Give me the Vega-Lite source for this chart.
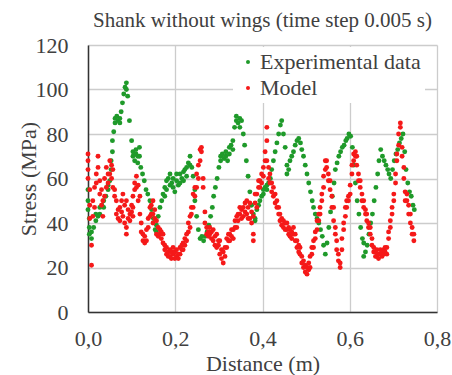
{
"$schema": "https://vega.github.io/schema/vega-lite/v6.json",
"width": 349, "height": 267,
"autosize": {"type": "none"},
"padding": {"left": 88, "top": 45, "right": 15, "bottom": 63},
"config": {"view": {"stroke": null}, "font": "Liberation Serif"},
"title": {"text": "Shank without wings (time step 0.005 s)", "fontSize": 21, "font": "Liberation Serif", "fontWeight": "normal", "color": "#404040", "offset": 3, "anchor": "middle"},
"data": {"values": [
{"x":0,"y":55,"s":"E"},{"x":0,"y":50,"s":"E"},{"x":0,"y":46,"s":"E"},{"x":0.003,"y":42,"s":"E"},{"x":0.003,"y":38,"s":"E"},{"x":0.003,"y":35,"s":"E"},{"x":0.008,"y":33,"s":"E"},{"x":0.008,"y":36,"s":"E"},{"x":0.013,"y":38,"s":"E"},{"x":0.018,"y":41,"s":"E"},{"x":0.018,"y":44,"s":"E"},{"x":0.023,"y":43,"s":"E"},{"x":0.027,"y":44,"s":"E"},{"x":0.027,"y":47,"s":"E"},{"x":0.032,"y":48,"s":"E"},{"x":0.036,"y":50,"s":"E"},{"x":0.036,"y":47,"s":"E"},{"x":0.041,"y":52,"s":"E"},{"x":0.046,"y":55,"s":"E"},{"x":0.046,"y":57,"s":"E"},{"x":0.05,"y":59,"s":"E"},{"x":0.053,"y":64,"s":"E"},{"x":0.053,"y":68,"s":"E"},{"x":0.056,"y":72,"s":"E"},{"x":0.056,"y":77,"s":"E"},{"x":0.059,"y":81,"s":"E"},{"x":0.062,"y":85,"s":"E"},{"x":0.062,"y":87,"s":"E"},{"x":0.066,"y":88,"s":"E"},{"x":0.069,"y":86,"s":"E"},{"x":0.073,"y":85,"s":"E"},{"x":0.073,"y":87,"s":"E"},{"x":0.076,"y":90,"s":"E"},{"x":0.079,"y":94,"s":"E"},{"x":0.082,"y":98,"s":"E"},{"x":0.085,"y":101,"s":"E"},{"x":0.088,"y":103,"s":"E"},{"x":0.088,"y":100,"s":"E"},{"x":0.091,"y":97,"s":"E"},{"x":0.095,"y":86,"s":"E"},{"x":0.1,"y":77,"s":"E"},{"x":0.103,"y":72,"s":"E"},{"x":0.103,"y":70,"s":"E"},{"x":0.107,"y":68,"s":"E"},{"x":0.11,"y":71,"s":"E"},{"x":0.11,"y":73,"s":"E"},{"x":0.114,"y":70,"s":"E"},{"x":0.114,"y":67,"s":"E"},{"x":0.118,"y":74,"s":"E"},{"x":0.118,"y":70,"s":"E"},{"x":0.121,"y":65,"s":"E"},{"x":0.125,"y":62,"s":"E"},{"x":0.129,"y":59,"s":"E"},{"x":0.133,"y":55,"s":"E"},{"x":0.137,"y":53,"s":"E"},{"x":0.142,"y":50,"s":"E"},{"x":0.146,"y":46,"s":"E"},{"x":0.15,"y":42,"s":"E"},{"x":0.154,"y":37,"s":"E"},{"x":0.157,"y":36,"s":"E"},{"x":0.157,"y":39,"s":"E"},{"x":0.161,"y":43,"s":"E"},{"x":0.165,"y":47,"s":"E"},{"x":0.169,"y":50,"s":"E"},{"x":0.172,"y":53,"s":"E"},{"x":0.176,"y":56,"s":"E"},{"x":0.176,"y":52,"s":"E"},{"x":0.18,"y":59,"s":"E"},{"x":0.18,"y":55,"s":"E"},{"x":0.184,"y":60,"s":"E"},{"x":0.188,"y":62,"s":"E"},{"x":0.188,"y":57,"s":"E"},{"x":0.192,"y":58,"s":"E"},{"x":0.195,"y":56,"s":"E"},{"x":0.195,"y":60,"s":"E"},{"x":0.199,"y":54,"s":"E"},{"x":0.203,"y":59,"s":"E"},{"x":0.203,"y":62,"s":"E"},{"x":0.207,"y":57,"s":"E"},{"x":0.211,"y":62,"s":"E"},{"x":0.211,"y":58,"s":"E"},{"x":0.215,"y":60,"s":"E"},{"x":0.219,"y":59,"s":"E"},{"x":0.219,"y":63,"s":"E"},{"x":0.222,"y":64,"s":"E"},{"x":0.226,"y":65,"s":"E"},{"x":0.226,"y":61,"s":"E"},{"x":0.23,"y":67,"s":"E"},{"x":0.234,"y":70,"s":"E"},{"x":0.234,"y":66,"s":"E"},{"x":0.238,"y":65,"s":"E"},{"x":0.241,"y":61,"s":"E"},{"x":0.245,"y":55,"s":"E"},{"x":0.245,"y":50,"s":"E"},{"x":0.249,"y":43,"s":"E"},{"x":0.253,"y":37,"s":"E"},{"x":0.257,"y":33,"s":"E"},{"x":0.261,"y":34,"s":"E"},{"x":0.265,"y":32,"s":"E"},{"x":0.269,"y":34,"s":"E"},{"x":0.273,"y":36,"s":"E"},{"x":0.277,"y":39,"s":"E"},{"x":0.281,"y":43,"s":"E"},{"x":0.285,"y":47,"s":"E"},{"x":0.288,"y":52,"s":"E"},{"x":0.292,"y":56,"s":"E"},{"x":0.296,"y":60,"s":"E"},{"x":0.3,"y":65,"s":"E"},{"x":0.304,"y":68,"s":"E"},{"x":0.304,"y":70,"s":"E"},{"x":0.308,"y":71,"s":"E"},{"x":0.312,"y":69,"s":"E"},{"x":0.316,"y":70,"s":"E"},{"x":0.316,"y":72,"s":"E"},{"x":0.32,"y":68,"s":"E"},{"x":0.324,"y":74,"s":"E"},{"x":0.324,"y":71,"s":"E"},{"x":0.328,"y":75,"s":"E"},{"x":0.332,"y":77,"s":"E"},{"x":0.332,"y":73,"s":"E"},{"x":0.336,"y":83,"s":"E"},{"x":0.34,"y":88,"s":"E"},{"x":0.34,"y":86,"s":"E"},{"x":0.344,"y":85,"s":"E"},{"x":0.348,"y":83,"s":"E"},{"x":0.348,"y":87,"s":"E"},{"x":0.352,"y":86,"s":"E"},{"x":0.356,"y":80,"s":"E"},{"x":0.359,"y":75,"s":"E"},{"x":0.363,"y":68,"s":"E"},{"x":0.367,"y":61,"s":"E"},{"x":0.371,"y":54,"s":"E"},{"x":0.375,"y":48,"s":"E"},{"x":0.379,"y":44,"s":"E"},{"x":0.383,"y":41,"s":"E"},{"x":0.383,"y":42,"s":"E"},{"x":0.387,"y":46,"s":"E"},{"x":0.391,"y":48,"s":"E"},{"x":0.394,"y":50,"s":"E"},{"x":0.398,"y":52,"s":"E"},{"x":0.402,"y":53,"s":"E"},{"x":0.402,"y":55,"s":"E"},{"x":0.406,"y":56,"s":"E"},{"x":0.41,"y":55,"s":"E"},{"x":0.41,"y":57,"s":"E"},{"x":0.414,"y":58,"s":"E"},{"x":0.418,"y":60,"s":"E"},{"x":0.421,"y":64,"s":"E"},{"x":0.425,"y":68,"s":"E"},{"x":0.429,"y":72,"s":"E"},{"x":0.433,"y":76,"s":"E"},{"x":0.437,"y":80,"s":"E"},{"x":0.441,"y":84,"s":"E"},{"x":0.444,"y":86,"s":"E"},{"x":0.448,"y":80,"s":"E"},{"x":0.452,"y":74,"s":"E"},{"x":0.456,"y":66,"s":"E"},{"x":0.456,"y":62,"s":"E"},{"x":0.46,"y":64,"s":"E"},{"x":0.463,"y":68,"s":"E"},{"x":0.467,"y":70,"s":"E"},{"x":0.471,"y":72,"s":"E"},{"x":0.475,"y":75,"s":"E"},{"x":0.479,"y":77,"s":"E"},{"x":0.483,"y":78,"s":"E"},{"x":0.487,"y":76,"s":"E"},{"x":0.49,"y":73,"s":"E"},{"x":0.494,"y":70,"s":"E"},{"x":0.498,"y":66,"s":"E"},{"x":0.502,"y":62,"s":"E"},{"x":0.506,"y":58,"s":"E"},{"x":0.51,"y":54,"s":"E"},{"x":0.514,"y":50,"s":"E"},{"x":0.517,"y":47,"s":"E"},{"x":0.521,"y":44,"s":"E"},{"x":0.525,"y":42,"s":"E"},{"x":0.529,"y":40,"s":"E"},{"x":0.533,"y":37,"s":"E"},{"x":0.537,"y":34,"s":"E"},{"x":0.54,"y":30,"s":"E"},{"x":0.544,"y":26,"s":"E"},{"x":0.548,"y":31,"s":"E"},{"x":0.552,"y":38,"s":"E"},{"x":0.556,"y":45,"s":"E"},{"x":0.56,"y":52,"s":"E"},{"x":0.564,"y":58,"s":"E"},{"x":0.567,"y":64,"s":"E"},{"x":0.571,"y":67,"s":"E"},{"x":0.575,"y":70,"s":"E"},{"x":0.579,"y":72,"s":"E"},{"x":0.583,"y":74,"s":"E"},{"x":0.587,"y":75,"s":"E"},{"x":0.591,"y":77,"s":"E"},{"x":0.594,"y":78,"s":"E"},{"x":0.598,"y":80,"s":"E"},{"x":0.602,"y":79,"s":"E"},{"x":0.606,"y":74,"s":"E"},{"x":0.609,"y":66,"s":"E"},{"x":0.613,"y":58,"s":"E"},{"x":0.617,"y":50,"s":"E"},{"x":0.621,"y":44,"s":"E"},{"x":0.625,"y":38,"s":"E"},{"x":0.629,"y":33,"s":"E"},{"x":0.632,"y":31,"s":"E"},{"x":0.632,"y":25,"s":"E"},{"x":0.636,"y":27,"s":"E"},{"x":0.64,"y":30,"s":"E"},{"x":0.644,"y":35,"s":"E"},{"x":0.648,"y":40,"s":"E"},{"x":0.652,"y":44,"s":"E"},{"x":0.656,"y":50,"s":"E"},{"x":0.66,"y":56,"s":"E"},{"x":0.664,"y":62,"s":"E"},{"x":0.667,"y":68,"s":"E"},{"x":0.671,"y":73,"s":"E"},{"x":0.675,"y":70,"s":"E"},{"x":0.679,"y":68,"s":"E"},{"x":0.683,"y":66,"s":"E"},{"x":0.687,"y":64,"s":"E"},{"x":0.69,"y":62,"s":"E"},{"x":0.694,"y":60,"s":"E"},{"x":0.698,"y":64,"s":"E"},{"x":0.702,"y":68,"s":"E"},{"x":0.706,"y":71,"s":"E"},{"x":0.71,"y":73,"s":"E"},{"x":0.714,"y":76,"s":"E"},{"x":0.718,"y":78,"s":"E"},{"x":0.722,"y":80,"s":"E"},{"x":0.726,"y":72,"s":"E"},{"x":0.729,"y":64,"s":"E"},{"x":0.733,"y":58,"s":"E"},{"x":0.737,"y":54,"s":"E"},{"x":0.741,"y":52,"s":"E"},{"x":0.745,"y":48,"s":"E"},{"x":0.748,"y":46,"s":"E"},
{"x":0,"y":71,"s":"M"},{"x":0,"y":68,"s":"M"},{"x":0,"y":64,"s":"M"},{"x":0,"y":60,"s":"M"},{"x":0.004,"y":55,"s":"M"},{"x":0.004,"y":48,"s":"M"},{"x":0.004,"y":42,"s":"M"},{"x":0.008,"y":30,"s":"M"},{"x":0.008,"y":21,"s":"M"},{"x":0.011,"y":43,"s":"M"},{"x":0.011,"y":50,"s":"M"},{"x":0.015,"y":56,"s":"M"},{"x":0.015,"y":47,"s":"M"},{"x":0.019,"y":62,"s":"M"},{"x":0.019,"y":58,"s":"M"},{"x":0.023,"y":70,"s":"M"},{"x":0.023,"y":65,"s":"M"},{"x":0.027,"y":59,"s":"M"},{"x":0.027,"y":53,"s":"M"},{"x":0.031,"y":55,"s":"M"},{"x":0.031,"y":48,"s":"M"},{"x":0.034,"y":50,"s":"M"},{"x":0.034,"y":43,"s":"M"},{"x":0.038,"y":52,"s":"M"},{"x":0.038,"y":60,"s":"M"},{"x":0.042,"y":56,"s":"M"},{"x":0.042,"y":65,"s":"M"},{"x":0.046,"y":62,"s":"M"},{"x":0.046,"y":58,"s":"M"},{"x":0.05,"y":62,"s":"M"},{"x":0.05,"y":68,"s":"M"},{"x":0.054,"y":60,"s":"M"},{"x":0.054,"y":66,"s":"M"},{"x":0.057,"y":64,"s":"M"},{"x":0.057,"y":56,"s":"M"},{"x":0.061,"y":55,"s":"M"},{"x":0.061,"y":52,"s":"M"},{"x":0.065,"y":50,"s":"M"},{"x":0.065,"y":44,"s":"M"},{"x":0.069,"y":46,"s":"M"},{"x":0.069,"y":42,"s":"M"},{"x":0.073,"y":47,"s":"M"},{"x":0.073,"y":41,"s":"M"},{"x":0.077,"y":50,"s":"M"},{"x":0.077,"y":45,"s":"M"},{"x":0.08,"y":53,"s":"M"},{"x":0.08,"y":43,"s":"M"},{"x":0.084,"y":48,"s":"M"},{"x":0.084,"y":40,"s":"M"},{"x":0.088,"y":50,"s":"M"},{"x":0.088,"y":38,"s":"M"},{"x":0.088,"y":35,"s":"M"},{"x":0.092,"y":42,"s":"M"},{"x":0.092,"y":46,"s":"M"},{"x":0.096,"y":44,"s":"M"},{"x":0.096,"y":41,"s":"M"},{"x":0.1,"y":48,"s":"M"},{"x":0.1,"y":45,"s":"M"},{"x":0.103,"y":52,"s":"M"},{"x":0.103,"y":47,"s":"M"},{"x":0.103,"y":43,"s":"M"},{"x":0.107,"y":58,"s":"M"},{"x":0.107,"y":55,"s":"M"},{"x":0.111,"y":61,"s":"M"},{"x":0.111,"y":56,"s":"M"},{"x":0.115,"y":57,"s":"M"},{"x":0.115,"y":50,"s":"M"},{"x":0.119,"y":52,"s":"M"},{"x":0.119,"y":44,"s":"M"},{"x":0.122,"y":40,"s":"M"},{"x":0.122,"y":36,"s":"M"},{"x":0.126,"y":35,"s":"M"},{"x":0.126,"y":32,"s":"M"},{"x":0.13,"y":34,"s":"M"},{"x":0.13,"y":31,"s":"M"},{"x":0.134,"y":37,"s":"M"},{"x":0.134,"y":32,"s":"M"},{"x":0.138,"y":42,"s":"M"},{"x":0.138,"y":38,"s":"M"},{"x":0.142,"y":47,"s":"M"},{"x":0.142,"y":43,"s":"M"},{"x":0.145,"y":48,"s":"M"},{"x":0.145,"y":44,"s":"M"},{"x":0.149,"y":50,"s":"M"},{"x":0.149,"y":44,"s":"M"},{"x":0.149,"y":40,"s":"M"},{"x":0.153,"y":46,"s":"M"},{"x":0.153,"y":42,"s":"M"},{"x":0.157,"y":41,"s":"M"},{"x":0.157,"y":35,"s":"M"},{"x":0.161,"y":38,"s":"M"},{"x":0.161,"y":34,"s":"M"},{"x":0.165,"y":35,"s":"M"},{"x":0.165,"y":37,"s":"M"},{"x":0.168,"y":33,"s":"M"},{"x":0.168,"y":36,"s":"M"},{"x":0.172,"y":35,"s":"M"},{"x":0.172,"y":31,"s":"M"},{"x":0.176,"y":30,"s":"M"},{"x":0.176,"y":28,"s":"M"},{"x":0.18,"y":29,"s":"M"},{"x":0.18,"y":26,"s":"M"},{"x":0.184,"y":27,"s":"M"},{"x":0.184,"y":25,"s":"M"},{"x":0.188,"y":28,"s":"M"},{"x":0.188,"y":25,"s":"M"},{"x":0.191,"y":27,"s":"M"},{"x":0.191,"y":24,"s":"M"},{"x":0.195,"y":29,"s":"M"},{"x":0.195,"y":26,"s":"M"},{"x":0.199,"y":27,"s":"M"},{"x":0.199,"y":24,"s":"M"},{"x":0.203,"y":25,"s":"M"},{"x":0.203,"y":28,"s":"M"},{"x":0.207,"y":26,"s":"M"},{"x":0.207,"y":24,"s":"M"},{"x":0.211,"y":26,"s":"M"},{"x":0.211,"y":29,"s":"M"},{"x":0.215,"y":28,"s":"M"},{"x":0.215,"y":30,"s":"M"},{"x":0.218,"y":28,"s":"M"},{"x":0.218,"y":31,"s":"M"},{"x":0.222,"y":30,"s":"M"},{"x":0.222,"y":33,"s":"M"},{"x":0.226,"y":32,"s":"M"},{"x":0.226,"y":35,"s":"M"},{"x":0.23,"y":36,"s":"M"},{"x":0.23,"y":40,"s":"M"},{"x":0.234,"y":38,"s":"M"},{"x":0.234,"y":43,"s":"M"},{"x":0.237,"y":44,"s":"M"},{"x":0.237,"y":47,"s":"M"},{"x":0.241,"y":47,"s":"M"},{"x":0.241,"y":53,"s":"M"},{"x":0.245,"y":52,"s":"M"},{"x":0.245,"y":56,"s":"M"},{"x":0.249,"y":56,"s":"M"},{"x":0.249,"y":62,"s":"M"},{"x":0.253,"y":60,"s":"M"},{"x":0.253,"y":66,"s":"M"},{"x":0.257,"y":68,"s":"M"},{"x":0.257,"y":73,"s":"M"},{"x":0.26,"y":72,"s":"M"},{"x":0.26,"y":74,"s":"M"},{"x":0.264,"y":56,"s":"M"},{"x":0.264,"y":60,"s":"M"},{"x":0.268,"y":45,"s":"M"},{"x":0.268,"y":40,"s":"M"},{"x":0.272,"y":38,"s":"M"},{"x":0.272,"y":35,"s":"M"},{"x":0.276,"y":36,"s":"M"},{"x":0.276,"y":34,"s":"M"},{"x":0.279,"y":35,"s":"M"},{"x":0.279,"y":38,"s":"M"},{"x":0.283,"y":33,"s":"M"},{"x":0.283,"y":36,"s":"M"},{"x":0.287,"y":37,"s":"M"},{"x":0.287,"y":32,"s":"M"},{"x":0.291,"y":34,"s":"M"},{"x":0.291,"y":30,"s":"M"},{"x":0.295,"y":35,"s":"M"},{"x":0.295,"y":29,"s":"M"},{"x":0.299,"y":32,"s":"M"},{"x":0.299,"y":30,"s":"M"},{"x":0.302,"y":32,"s":"M"},{"x":0.302,"y":26,"s":"M"},{"x":0.306,"y":28,"s":"M"},{"x":0.306,"y":24,"s":"M"},{"x":0.31,"y":22,"s":"M"},{"x":0.31,"y":27,"s":"M"},{"x":0.314,"y":25,"s":"M"},{"x":0.314,"y":29,"s":"M"},{"x":0.318,"y":29,"s":"M"},{"x":0.318,"y":33,"s":"M"},{"x":0.322,"y":32,"s":"M"},{"x":0.322,"y":35,"s":"M"},{"x":0.325,"y":32,"s":"M"},{"x":0.325,"y":35,"s":"M"},{"x":0.329,"y":34,"s":"M"},{"x":0.329,"y":37,"s":"M"},{"x":0.333,"y":37,"s":"M"},{"x":0.333,"y":33,"s":"M"},{"x":0.337,"y":38,"s":"M"},{"x":0.337,"y":41,"s":"M"},{"x":0.341,"y":38,"s":"M"},{"x":0.341,"y":43,"s":"M"},{"x":0.344,"y":44,"s":"M"},{"x":0.344,"y":41,"s":"M"},{"x":0.348,"y":44,"s":"M"},{"x":0.348,"y":47,"s":"M"},{"x":0.352,"y":46,"s":"M"},{"x":0.352,"y":42,"s":"M"},{"x":0.356,"y":47,"s":"M"},{"x":0.356,"y":43,"s":"M"},{"x":0.36,"y":49,"s":"M"},{"x":0.36,"y":45,"s":"M"},{"x":0.364,"y":50,"s":"M"},{"x":0.364,"y":44,"s":"M"},{"x":0.367,"y":47,"s":"M"},{"x":0.367,"y":42,"s":"M"},{"x":0.371,"y":49,"s":"M"},{"x":0.371,"y":42,"s":"M"},{"x":0.375,"y":45,"s":"M"},{"x":0.375,"y":40,"s":"M"},{"x":0.379,"y":43,"s":"M"},{"x":0.379,"y":35,"s":"M"},{"x":0.379,"y":32,"s":"M"},{"x":0.383,"y":49,"s":"M"},{"x":0.383,"y":53,"s":"M"},{"x":0.387,"y":53,"s":"M"},{"x":0.387,"y":47,"s":"M"},{"x":0.391,"y":56,"s":"M"},{"x":0.391,"y":59,"s":"M"},{"x":0.394,"y":59,"s":"M"},{"x":0.394,"y":56,"s":"M"},{"x":0.398,"y":62,"s":"M"},{"x":0.398,"y":58,"s":"M"},{"x":0.402,"y":65,"s":"M"},{"x":0.402,"y":61,"s":"M"},{"x":0.406,"y":68,"s":"M"},{"x":0.406,"y":72,"s":"M"},{"x":0.41,"y":83,"s":"M"},{"x":0.41,"y":77,"s":"M"},{"x":0.41,"y":68,"s":"M"},{"x":0.414,"y":65,"s":"M"},{"x":0.414,"y":60,"s":"M"},{"x":0.417,"y":62,"s":"M"},{"x":0.417,"y":58,"s":"M"},{"x":0.421,"y":58,"s":"M"},{"x":0.421,"y":54,"s":"M"},{"x":0.425,"y":56,"s":"M"},{"x":0.425,"y":52,"s":"M"},{"x":0.429,"y":53,"s":"M"},{"x":0.429,"y":49,"s":"M"},{"x":0.433,"y":50,"s":"M"},{"x":0.433,"y":47,"s":"M"},{"x":0.437,"y":47,"s":"M"},{"x":0.437,"y":44,"s":"M"},{"x":0.44,"y":44,"s":"M"},{"x":0.44,"y":41,"s":"M"},{"x":0.444,"y":42,"s":"M"},{"x":0.444,"y":39,"s":"M"},{"x":0.448,"y":41,"s":"M"},{"x":0.448,"y":38,"s":"M"},{"x":0.452,"y":40,"s":"M"},{"x":0.452,"y":37,"s":"M"},{"x":0.456,"y":40,"s":"M"},{"x":0.456,"y":37,"s":"M"},{"x":0.46,"y":38,"s":"M"},{"x":0.46,"y":35,"s":"M"},{"x":0.463,"y":37,"s":"M"},{"x":0.463,"y":34,"s":"M"},{"x":0.467,"y":36,"s":"M"},{"x":0.467,"y":33,"s":"M"},{"x":0.471,"y":38,"s":"M"},{"x":0.471,"y":35,"s":"M"},{"x":0.475,"y":35,"s":"M"},{"x":0.475,"y":32,"s":"M"},{"x":0.479,"y":32,"s":"M"},{"x":0.479,"y":29,"s":"M"},{"x":0.483,"y":30,"s":"M"},{"x":0.483,"y":27,"s":"M"},{"x":0.486,"y":26,"s":"M"},{"x":0.486,"y":29,"s":"M"},{"x":0.49,"y":25,"s":"M"},{"x":0.49,"y":22,"s":"M"},{"x":0.494,"y":23,"s":"M"},{"x":0.494,"y":20,"s":"M"},{"x":0.498,"y":21,"s":"M"},{"x":0.498,"y":18,"s":"M"},{"x":0.502,"y":17,"s":"M"},{"x":0.502,"y":20,"s":"M"},{"x":0.506,"y":19,"s":"M"},{"x":0.506,"y":22,"s":"M"},{"x":0.509,"y":20,"s":"M"},{"x":0.509,"y":25,"s":"M"},{"x":0.513,"y":26,"s":"M"},{"x":0.513,"y":29,"s":"M"},{"x":0.517,"y":29,"s":"M"},{"x":0.517,"y":32,"s":"M"},{"x":0.521,"y":33,"s":"M"},{"x":0.521,"y":36,"s":"M"},{"x":0.525,"y":37,"s":"M"},{"x":0.525,"y":41,"s":"M"},{"x":0.529,"y":41,"s":"M"},{"x":0.529,"y":44,"s":"M"},{"x":0.532,"y":44,"s":"M"},{"x":0.532,"y":47,"s":"M"},{"x":0.536,"y":50,"s":"M"},{"x":0.536,"y":53,"s":"M"},{"x":0.54,"y":56,"s":"M"},{"x":0.54,"y":61,"s":"M"},{"x":0.544,"y":64,"s":"M"},{"x":0.544,"y":68,"s":"M"},{"x":0.547,"y":68,"s":"M"},{"x":0.547,"y":65,"s":"M"},{"x":0.551,"y":62,"s":"M"},{"x":0.551,"y":59,"s":"M"},{"x":0.555,"y":59,"s":"M"},{"x":0.555,"y":55,"s":"M"},{"x":0.559,"y":52,"s":"M"},{"x":0.559,"y":47,"s":"M"},{"x":0.563,"y":47,"s":"M"},{"x":0.563,"y":41,"s":"M"},{"x":0.567,"y":38,"s":"M"},{"x":0.567,"y":35,"s":"M"},{"x":0.57,"y":32,"s":"M"},{"x":0.57,"y":28,"s":"M"},{"x":0.574,"y":26,"s":"M"},{"x":0.574,"y":23,"s":"M"},{"x":0.578,"y":20,"s":"M"},{"x":0.578,"y":22,"s":"M"},{"x":0.582,"y":28,"s":"M"},{"x":0.582,"y":33,"s":"M"},{"x":0.586,"y":37,"s":"M"},{"x":0.586,"y":40,"s":"M"},{"x":0.59,"y":43,"s":"M"},{"x":0.59,"y":47,"s":"M"},{"x":0.593,"y":47,"s":"M"},{"x":0.593,"y":50,"s":"M"},{"x":0.597,"y":52,"s":"M"},{"x":0.597,"y":50,"s":"M"},{"x":0.601,"y":53,"s":"M"},{"x":0.601,"y":57,"s":"M"},{"x":0.605,"y":62,"s":"M"},{"x":0.605,"y":66,"s":"M"},{"x":0.609,"y":68,"s":"M"},{"x":0.609,"y":71,"s":"M"},{"x":0.613,"y":72,"s":"M"},{"x":0.613,"y":70,"s":"M"},{"x":0.616,"y":70,"s":"M"},{"x":0.616,"y":66,"s":"M"},{"x":0.62,"y":62,"s":"M"},{"x":0.62,"y":59,"s":"M"},{"x":0.624,"y":59,"s":"M"},{"x":0.624,"y":56,"s":"M"},{"x":0.628,"y":53,"s":"M"},{"x":0.628,"y":50,"s":"M"},{"x":0.632,"y":50,"s":"M"},{"x":0.632,"y":47,"s":"M"},{"x":0.636,"y":46,"s":"M"},{"x":0.636,"y":44,"s":"M"},{"x":0.639,"y":44,"s":"M"},{"x":0.639,"y":41,"s":"M"},{"x":0.643,"y":40,"s":"M"},{"x":0.643,"y":38,"s":"M"},{"x":0.647,"y":38,"s":"M"},{"x":0.647,"y":35,"s":"M"},{"x":0.651,"y":33,"s":"M"},{"x":0.651,"y":30,"s":"M"},{"x":0.655,"y":29,"s":"M"},{"x":0.655,"y":27,"s":"M"},{"x":0.659,"y":27,"s":"M"},{"x":0.659,"y":25,"s":"M"},{"x":0.662,"y":28,"s":"M"},{"x":0.662,"y":25,"s":"M"},{"x":0.666,"y":26,"s":"M"},{"x":0.666,"y":24,"s":"M"},{"x":0.67,"y":26,"s":"M"},{"x":0.67,"y":28,"s":"M"},{"x":0.674,"y":27,"s":"M"},{"x":0.674,"y":25,"s":"M"},{"x":0.678,"y":28,"s":"M"},{"x":0.678,"y":26,"s":"M"},{"x":0.681,"y":29,"s":"M"},{"x":0.681,"y":27,"s":"M"},{"x":0.685,"y":29,"s":"M"},{"x":0.685,"y":26,"s":"M"},{"x":0.689,"y":33,"s":"M"},{"x":0.689,"y":36,"s":"M"},{"x":0.693,"y":38,"s":"M"},{"x":0.693,"y":41,"s":"M"},{"x":0.697,"y":44,"s":"M"},{"x":0.697,"y":47,"s":"M"},{"x":0.701,"y":50,"s":"M"},{"x":0.701,"y":53,"s":"M"},{"x":0.705,"y":62,"s":"M"},{"x":0.705,"y":58,"s":"M"},{"x":0.708,"y":71,"s":"M"},{"x":0.708,"y":68,"s":"M"},{"x":0.712,"y":75,"s":"M"},{"x":0.712,"y":80,"s":"M"},{"x":0.716,"y":83,"s":"M"},{"x":0.716,"y":85,"s":"M"},{"x":0.72,"y":74,"s":"M"},{"x":0.72,"y":70,"s":"M"},{"x":0.724,"y":65,"s":"M"},{"x":0.724,"y":60,"s":"M"},{"x":0.727,"y":54,"s":"M"},{"x":0.727,"y":50,"s":"M"},{"x":0.731,"y":53,"s":"M"},{"x":0.731,"y":50,"s":"M"},{"x":0.735,"y":48,"s":"M"},{"x":0.735,"y":44,"s":"M"},{"x":0.739,"y":44,"s":"M"},{"x":0.739,"y":40,"s":"M"},{"x":0.743,"y":38,"s":"M"},{"x":0.743,"y":35,"s":"M"},{"x":0.747,"y":35,"s":"M"},{"x":0.747,"y":32,"s":"M"}
]},
"mark": {"type": "circle", "size": 24, "opacity": 1},
"encoding": {
"x": {"field": "x", "type": "quantitative", "scale": {"domain": [0, 0.8], "nice": false},
 "axis": {"values": [0, 0.2, 0.4, 0.6, 0.8], "format": ".1f", "labelExpr": "replace(datum.label, '.', ',')", "title": "Distance (m)", "labelFlush": false, "labelFont": "Liberation Serif", "titleFont": "Liberation Serif", "labelFontSize": 22, "titleFontSize": 22, "titleFontWeight": "normal", "labelColor": "#404040", "titleColor": "#404040", "ticks": false, "labelPadding": 16, "titleY": 51, "titleBaseline": "middle", "domainColor": "#333333", "domainWidth": 1.5, "gridColor": "#cccccc", "gridWidth": 1.3}},
"y": {"field": "y", "type": "quantitative", "scale": {"domain": [0, 120], "nice": false},
 "axis": {"values": [0, 20, 40, 60, 80, 100, 120], "title": "Stress (MPa)", "labelFont": "Liberation Serif", "titleFont": "Liberation Serif", "labelFontSize": 22, "titleFontSize": 22, "titleFontWeight": "normal", "labelColor": "#404040", "titleColor": "#404040", "ticks": false, "labelPadding": 20, "titleX": -60, "titleY": 133.5, "titleAlign": "center", "titleBaseline": "middle", "titleAngle": -90, "domainColor": "#333333", "domainWidth": 1.5, "gridColor": "#cccccc", "gridWidth": 1.3}},
"color": {"field": "s", "type": "nominal", "scale": {"domain": ["E", "M"], "range": ["#1f9a2a", "#f51919"]},
 "legend": {"title": null, "orient": "none", "legendX": 145, "legendY": 2, "fillColor": "white", "padding": 4, "symbolOffset": 0, "symbolType": "circle", "symbolSize": 16, "labelFont": "Liberation Serif", "labelFontSize": 22, "labelColor": "#404040", "labelOffset": 1, "labelLimit": 300, "rowPadding": 4, "labelExpr": "datum.label == 'E' ? 'Experimental data' : 'Model'"}}
}
}
